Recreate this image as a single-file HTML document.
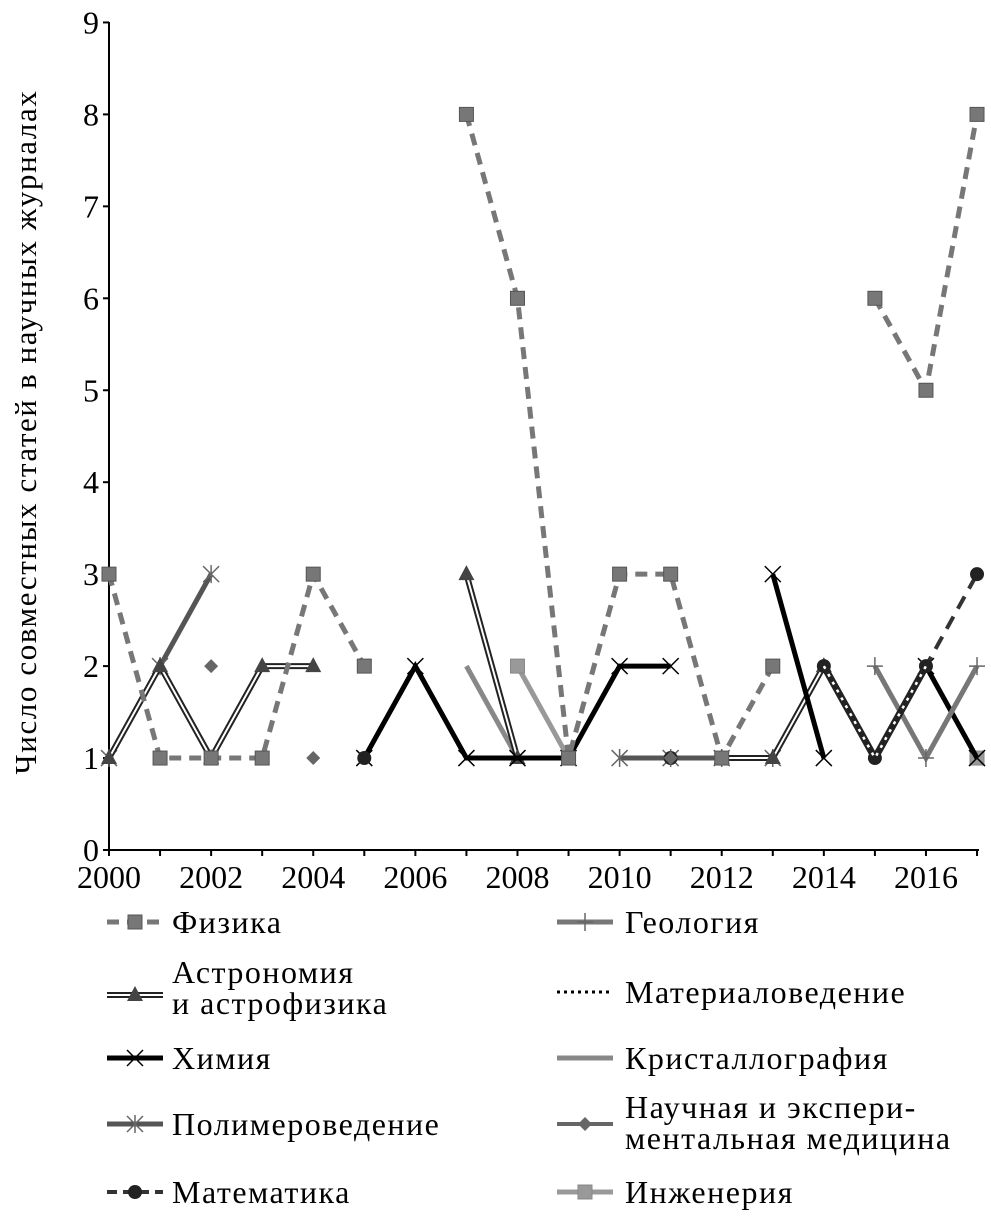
<!DOCTYPE html>
<html><head><meta charset="utf-8">
<style>
body{margin:0;background:#fff;}
svg{display:block;font-family:"Liberation Serif","DejaVu Serif",serif;}
</style></head>
<body>
<svg id="chart" width="991" height="1220" viewBox="0 0 991 1220"></svg>
<script>
const years=[2000,2001,2002,2003,2004,2005,2006,2007,2008,2009,2010,2011,2012,2013,2014,2015,2016,2017];
const yTicks=[0,1,2,3,4,5,6,7,8,9];
const xLabels=[2000,2002,2004,2006,2008,2010,2012,2014,2016];
const N=null;
const physics=[3,1,1,1,3,2,N,8,6,1,3,3,1,2,N,6,5,8];
const astro=[1,2,1,2,2,N,N,3,1,N,N,N,1,1,2,N,N,N];
const chemistry=[N,N,N,N,N,1,2,1,1,1,2,2,N,3,1,N,2,1];
const polymer=[1,2,3,N,N,N,N,N,N,N,1,1,1,1,N,N,N,N];
const math=[N,N,1,N,N,1,N,N,N,N,N,1,N,N,2,1,2,3];
const geology=[N,N,N,N,N,N,N,N,N,N,N,N,N,N,N,2,1,2];
const materials=[N,N,N,N,N,N,N,N,N,N,N,N,N,N,2,1,2,N];
const crystal=[N,N,N,N,N,N,N,2,1,N,N,N,N,N,N,N,N,N];
const medicine=[N,N,2,N,1,N,N,N,N,N,N,1,N,N,N,N,N,N];
const engineering=[N,N,N,N,N,N,N,N,2,1,N,N,N,N,N,N,N,1];

const svg=document.getElementById('chart');
const NS='http://www.w3.org/2000/svg';
const X0=109,XS=51.06,Y0=850,YS=91.95;
const xs=i=>X0+i*XS, ys=v=>Y0-v*YS;
function mk(tag,attrs,parent){const e=document.createElementNS(NS,tag);for(const k in attrs)e.setAttribute(k,attrs[k]);(parent||svg).appendChild(e);return e;}

const ax=mk('g',{});


mk('line',{x1:X0,y1:22,x2:X0,y2:Y0,stroke:'#000','stroke-width':2},ax);
mk('line',{x1:X0,y1:Y0,x2:xs(17)+2,y2:Y0,stroke:'#000','stroke-width':2},ax);
yTicks.forEach(v=>{
  mk('line',{x1:X0-6,y1:ys(v),x2:X0,y2:ys(v),stroke:'#000','stroke-width':2},ax);
  const t=mk('text',{x:X0-10,y:ys(v)+11,'text-anchor':'end','font-size':32},ax);
  t.textContent=v;
  
  
});
years.forEach((y,i)=>mk('line',{x1:xs(i),y1:Y0,x2:xs(i),y2:Y0+6,stroke:'#000','stroke-width':2},ax));
xLabels.forEach(y=>{
  const t=mk('text',{x:xs(y-2000),y:Y0+38,'text-anchor':'middle','font-size':32},ax);
  t.textContent=y;
  
  
});
const yt=mk('text',{transform:'translate(36,432) rotate(-90)','text-anchor':'middle','font-size':31,'letter-spacing':'1.6'});
yt.textContent='Число совместных статей в научных  журналах';



function marker(g,type,x,y,col){
  if(type==='sq') mk('rect',{x:x-7,y:y-7,width:14,height:14,fill:col,stroke:'#555','stroke-width':1},g);
  else if(type==='lsq') mk('rect',{x:x-7,y:y-7,width:14,height:14,fill:'#999',stroke:'#888','stroke-width':1},g);
  else if(type==='tri') mk('polygon',{points:`${x},${y-9} ${x-8},${y+6} ${x+8},${y+6}`,fill:'#444'},g);
  else if(type==='x'){mk('path',{d:`M${x-8},${y-8}L${x+8},${y+8}M${x-8},${y+8}L${x+8},${y-8}`,stroke:'#000','stroke-width':1.5},g);}
  else if(type==='ast'){mk('path',{d:`M${x-8},${y-8}L${x+8},${y+8}M${x-8},${y+8}L${x+8},${y-8}M${x},${y-9}L${x},${y+9}`,stroke:'#666','stroke-width':1.5},g);}
  else if(type==='plus'){mk('path',{d:`M${x-8},${y}L${x+8},${y}M${x},${y-9}L${x},${y+9}`,stroke:'#666','stroke-width':1.5},g);}
  else if(type==='circ') mk('circle',{cx:x,cy:y,r:7,fill:'#222'},g);
  else if(type==='dia') mk('polygon',{points:`${x},${y-7} ${x+7},${y} ${x},${y+7} ${x-7},${y}`,fill:'#666'},g);
}
function drawLine(g,pts,st){
  if(st.double){
    mk('polyline',{points:pts,fill:'none',stroke:'#222','stroke-width':6,'stroke-linejoin':'miter'},g);
    mk('polyline',{points:pts,fill:'none',stroke:'#fff','stroke-width':2,'stroke-linejoin':'miter'},g);
  } else if(st.dotted){
    mk('polyline',{points:pts,fill:'none',stroke:'#222','stroke-width':7},g);
    mk('polyline',{points:pts,fill:'none',stroke:'#fff','stroke-width':2.5,'stroke-dasharray':'3 6'},g);
  } else mk('polyline',{points:pts,fill:'none',stroke:st.col,'stroke-width':st.w,'stroke-dasharray':st.dash||'none'},g);
}
function series(name,data,st){
  const g=mk('g',{});
  
  
  let seg=[];
  const segs=[];
  data.forEach((v,i)=>{if(v===null){if(seg.length)segs.push(seg);seg=[];}else seg.push([xs(i),ys(v)]);});
  if(seg.length)segs.push(seg);
  segs.forEach(s=>{if(s.length>1)drawLine(g,s.map(p=>p.join(',')).join(' '),st);});
  if(st.m) data.forEach((v,i)=>{if(v!==null)marker(g,st.m,xs(i),ys(v),st.mc||st.col);});
}
series('series-polymer',polymer,{col:'#555',w:5,m:'ast'});
series('series-crystallography',crystal,{col:'#888',w:5});
series('series-engineering',engineering,{col:'#999',w:5,m:'lsq'});
series('series-astronomy',astro,{double:true,m:'tri'});
series('series-chemistry',chemistry,{col:'#000',w:5,m:'x'});
series('series-geology',geology,{col:'#777',w:5,m:'plus'});
series('series-math',math,{col:'#333',w:4,dash:'14 9',m:'circ'});
series('series-materials',materials,{dotted:true});
series('series-medicine',medicine,{col:'#666',w:4,m:'dia'});
series('series-physics',physics,{col:'#777',w:5,dash:'12 8',m:'sq',mc:'#777'});

const legend=[
 ['Физика',107,922,{col:'#777',w:5,dash:'12 8',m:'sq',mc:'#777'}],
 ['Астрономия|и астрофизика',107,995,{double:true,m:'tri'}],
 ['Химия',107,1058,{col:'#000',w:5,m:'x'}],
 ['Полимероведение',107,1124,{col:'#555',w:5,m:'ast'}],
 ['Математика',107,1192,{col:'#333',w:4,dash:'10 6',m:'circ'}],
 ['Геология',557,922,{col:'#777',w:5,m:'plus'}],
 ['Материаловедение',557,992,{col:'#000',w:3,dash:'3 4'}],
 ['Кристаллография',557,1058,{col:'#888',w:5}],
 ['Научная и экспери-|ментальная медицина',557,1124,{col:'#666',w:4,m:'dia'}],
 ['Инженерия',557,1192,{col:'#999',w:5,m:'lsq'}]
];
legend.forEach(([label,x,y,st])=>{
  const g=mk('g',{});
  
  
  drawLine(g,`${x},${y} ${x+56},${y}`,st);
  if(st.m)marker(g,st.m,x+28,y,st.mc||st.col);
  const lines=label.split('|');
  const tx=x+(x<300?65:68);
  if(lines.length===1){
    const t=mk('text',{x:tx,y:y+11,'font-size':32,'letter-spacing':'1.5'},g);t.textContent=lines[0];
  } else {
    const base=x<300?y-12:y-6;
    lines.forEach((l,k)=>{const t=mk('text',{x:tx,y:base+k*31,'font-size':32,'letter-spacing':'1.5'},g);t.textContent=l;});
  }
});
</script>
</body></html>
